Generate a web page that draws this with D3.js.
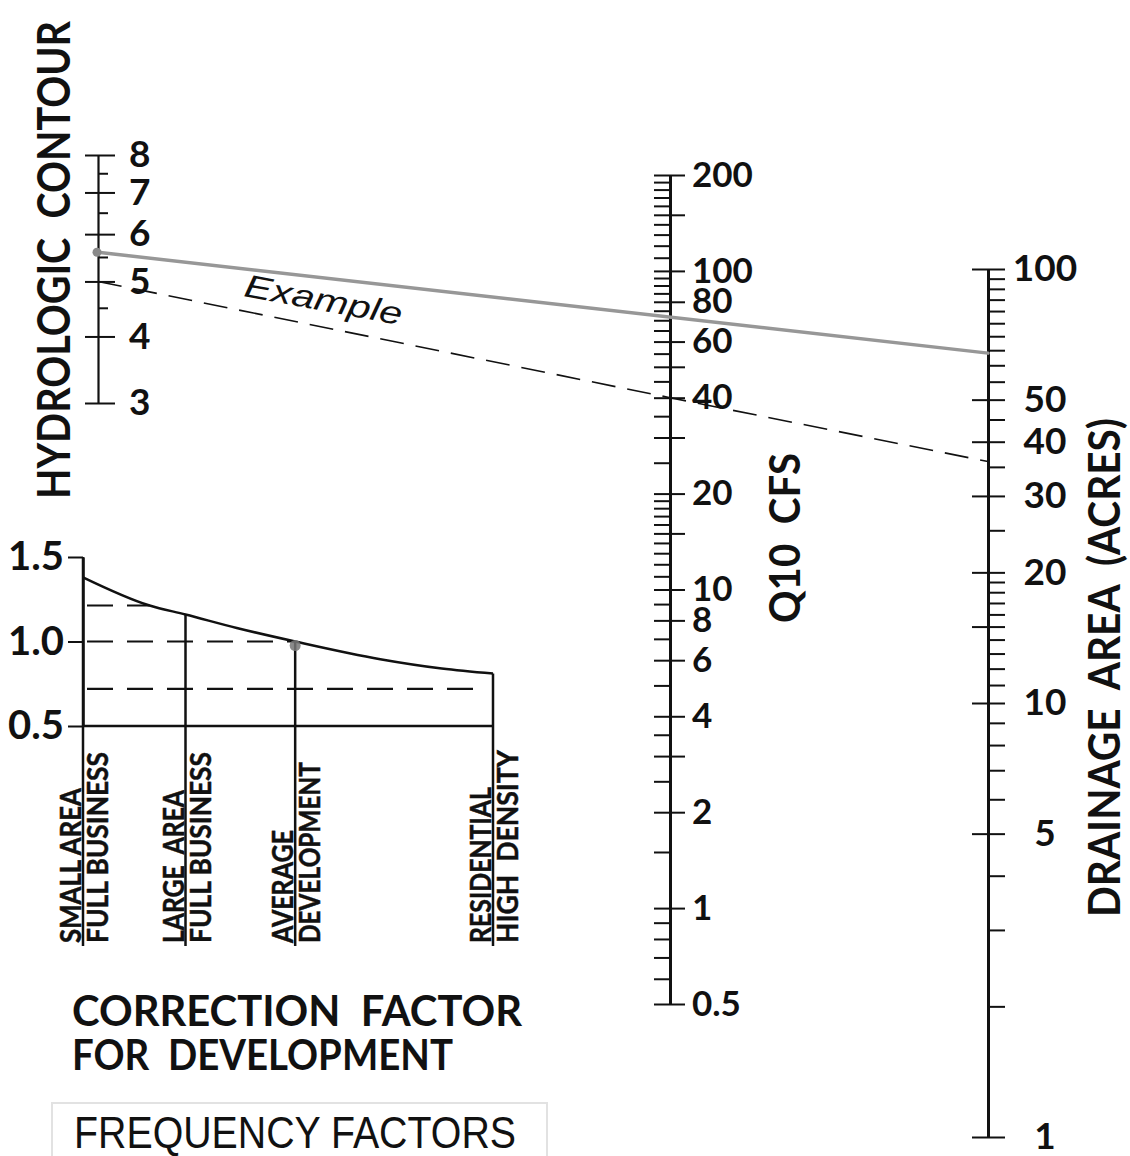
<!DOCTYPE html>
<html>
<head>
<meta charset="utf-8">
<script src="https://cdn.jsdelivr.net/npm/d3@7"></script>
<style>
  body { margin: 0; background: #fff; }
  svg { display: block; }
  text { fill: #111; white-space: pre; }
</style>
</head>
<body>
<script>
// ---- Hydrologic contour scale ----
const contourMajor = [3, 4, 5, 6, 7, 8];
const contourMinor = [4.5, 5.5, 6.5, 7.5];

// ---- Q10 flow scale (cfs) ----
const flowMajor = [0.5, 1, 2, 3, 4, 6, 8, 10, 15, 20, 30, 40, 50, 60, 80, 100, 150, 200];
const flowMinor = [0.6, 0.7, 0.8, 0.9, 1.5, 2.5, 3.5, 5, 7, 9,
                   11, 12, 13, 14, 16, 17, 18, 19, 25, 35, 45, 55, 65, 70, 75,
                   85, 90, 95, 110, 120, 130, 140, 160, 170, 180, 190];
const flowLabels = [0.5, 1, 2, 4, 6, 8, 10, 20, 40, 60, 80, 100, 200];

// ---- Drainage area scale (acres) ----
const areaMajor = [1, 5, 10, 15, 20, 30, 40, 50, 100];
const areaMinor = [2, 3, 4, 6, 7, 8, 9, 11, 12, 13, 14, 16, 17, 18, 19, 25, 35, 45,
                   55, 60, 65, 70, 75, 80, 85, 90, 95];
const areaLabels = [1, 5, 10, 20, 30, 40, 50, 100];

// ---- Worked example ----
const exampleSolid = { contour: 5.6, area: 64 };
const exampleDashed = { contour: 5, flow: 40, area: 36 };

// ---- Correction factor for development ----
const factorTicks = [0.5, 1.0, 1.5];
const categoryNames = [["SMALL AREA", "FULL BUSINESS"], ["LARGE  AREA", "FULL BUSINESS"],
                       ["AVERAGE", "DEVELOPMENT"], ["RESIDENTIAL", "HIGH  DENSITY"]];
const categoryPos = [0, 1, 2.07, 4];
const curvePos = [0, 0.65, 1, 1.5, 2.07, 2.9, 3.5, 4];
const curveFactor = [1.38, 1.213, 1.16, 1.08, 1.0, 0.895, 0.84, 0.81];
const guideFactor = [1.213, 1.0, 0.72];
const guideEnd = [0.65, 2.07, 4];
const examplePos = 2.07;

// ---------------------------------------------------------------
const W = 1130, H = 1156;
const FONT = "Lato, 'Open Sans', 'DejaVu Sans', sans-serif";
const INK = "#111";

const svg = d3.select("body").append("svg")
  .attr("width", W).attr("height", H)
  .attr("viewBox", `0 0 ${W} ${H}`);

const xContour = 98, xFlow = 670, xArea = 988;

const contourY = d3.scalePow().exponent(0.25).domain([3, 8]).range([403, 155]);
const flowY = d3.scaleLog().domain([0.5, 200]).range([1004, 175]);
const areaY = d3.scaleLog().domain([1, 100]).range([1137, 269]);

const fmt = d => (d < 1 ? d3.format(".1f")(d) : d3.format("d")(d));

function styleAxis(g, opts) {
  g.attr("font-family", null).attr("font-size", null);
  g.selectAll(".tick line").attr("stroke", INK).attr("stroke-width", opts.tickWidth || 2);
  g.selectAll(".domain").attr("stroke", INK).attr("stroke-width", opts.domainWidth || 2.5);
  g.selectAll(".tick text")
    .attr("fill", INK)
    .style("font-family", FONT)
    .style("font-weight", 700)
    .style("font-size", opts.fontSize + "px");
}

// ---- Hydrologic contour axis ----
{
  const g = svg.append("g").attr("transform", `translate(${xContour},0)`);
  const left = g.append("g").call(d3.axisLeft(contourY).tickValues(contourMajor)
    .tickSize(13).tickSizeOuter(0).tickFormat(""));
  styleAxis(left, { domainWidth: 2.2 });
  const minor = g.append("g").call(d3.axisRight(contourY).tickValues(contourMinor)
    .tickSize(10).tickSizeOuter(0).tickFormat(""));
  minor.select(".domain").remove();
  styleAxis(minor, {});
  const right = g.append("g").call(d3.axisRight(contourY).tickValues(contourMajor)
    .tickSize(17).tickSizeOuter(0).tickPadding(14).tickFormat(d3.format("d")));
  right.select(".domain").remove();
  styleAxis(right, { fontSize: 37 });
}

svg.append("text")
  .attr("transform", `translate(70,499) rotate(-90)`)
  .attr("textLength", 478).attr("lengthAdjust", "spacingAndGlyphs")
  .style("font-family", FONT).style("font-weight", 700).style("font-size", "45px")
  .text("HYDROLOGIC  CONTOUR");

// ---- Q10 axis ----
{
  const g = svg.append("g").attr("transform", `translate(${xFlow},0)`);
  const left = g.append("g").call(d3.axisLeft(flowY).tickValues(flowMajor.concat(flowMinor))
    .tickSize(16).tickSizeOuter(0).tickFormat(""));
  styleAxis(left, { domainWidth: 3 });
  const right = g.append("g").call(d3.axisRight(flowY).tickValues(flowMajor)
    .tickSize(15).tickSizeOuter(0).tickPadding(7)
    .tickFormat(d => flowLabels.includes(d) ? fmt(d) : ""));
  right.select(".domain").remove();
  styleAxis(right, { fontSize: 35 });
}

svg.append("text")
  .attr("transform", `translate(800,623) rotate(-90)`)
  .attr("textLength", 170).attr("lengthAdjust", "spacingAndGlyphs")
  .style("font-family", FONT).style("font-weight", 700).style("font-size", "42px")
  .text("Q10  CFS");

// ---- Drainage area axis ----
{
  const g = svg.append("g").attr("transform", `translate(${xArea},0)`);
  const right = g.append("g").call(d3.axisRight(areaY).tickValues(areaMajor.concat(areaMinor))
    .tickSize(17).tickSizeOuter(0).tickFormat(""));
  styleAxis(right, { domainWidth: 3 });
  const left = g.append("g").call(d3.axisLeft(areaY).tickValues(areaMajor)
    .tickSize(16).tickSizeOuter(0).tickFormat(""));
  left.select(".domain").remove();
  styleAxis(left, {});
  const lab = g.append("g").call(d3.axisRight(areaY).tickValues(areaLabels)
    .tickSize(0).tickSizeOuter(0).tickPadding(57).tickFormat(fmt));
  lab.select(".domain").remove();
  lab.selectAll(".tick line").remove();
  styleAxis(lab, { fontSize: 37 });
  lab.selectAll(".tick text").attr("text-anchor", "middle");
}

svg.append("text")
  .attr("transform", `translate(1120,917) rotate(-90)`)
  .attr("textLength", 499).attr("lengthAdjust", "spacingAndGlyphs")
  .style("font-family", FONT).style("font-weight", 700).style("font-size", "44px")
  .text("DRAINAGE  AREA  (ACRES)");

// ---- Example lines ----
svg.append("line")
  .attr("x1", xContour).attr("y1", contourY(exampleSolid.contour))
  .attr("x2", xArea).attr("y2", areaY(exampleSolid.area))
  .attr("stroke", "#979797").attr("stroke-width", 3.5).attr("stroke-linecap", "round");
svg.append("circle")
  .attr("cx", xContour - 1).attr("cy", contourY(exampleSolid.contour))
  .attr("r", 4.5).attr("fill", "#8a8a8a");

svg.append("path")
  .attr("d", d3.line()([
    [xContour, contourY(exampleDashed.contour)],
    [xFlow, flowY(exampleDashed.flow)],
    [xArea, areaY(exampleDashed.area)]
  ]))
  .attr("fill", "none").attr("stroke", INK).attr("stroke-width", 1.6)
  .attr("stroke-dasharray", "24,12");

svg.append("text")
  .attr("transform", `translate(243,296) rotate(10.5)`)
  .attr("textLength", 160).attr("lengthAdjust", "spacingAndGlyphs")
  .style("font-family", "'Liberation Sans', Arial, sans-serif")
  .style("font-style", "italic").style("font-size", "32px")
  .text("Example");

// ---- Correction factor chart ----
const devX = d3.scaleLinear().domain([0, 4]).range([83, 493]);
const factorY = d3.scaleLinear().domain([0.5, 1.5]).range([726, 557]);
const labelBase = 943, barBottom = 946;

{
  const ax = svg.append("g").attr("transform", `translate(${devX(0)},0)`)
    .call(d3.axisLeft(factorY).tickValues(factorTicks).tickSize(15).tickSizeOuter(0)
      .tickPadding(4).tickFormat(d3.format(".1f")));
  styleAxis(ax, { fontSize: 40, domainWidth: 2.5 });
}

// factor = 0.5 baseline
svg.append("line")
  .attr("x1", devX(0)).attr("x2", devX(4))
  .attr("y1", factorY(0.5)).attr("y2", factorY(0.5))
  .attr("stroke", INK).attr("stroke-width", 2.5);

// guide lines
svg.append("g").selectAll("line").data(guideFactor).join("line")
  .attr("x1", devX(0) + 4).attr("x2", (d, i) => devX(guideEnd[i]) - (i === 2 ? 6 : 0))
  .attr("y1", d => factorY(d)).attr("y2", d => factorY(d))
  .attr("stroke", INK).attr("stroke-width", 2.2).attr("stroke-dasharray", "26,14");

// development curve
const curvePts = curvePos.map((p, i) => [devX(p), factorY(curveFactor[i])]);
svg.append("path")
  .attr("d", d3.line().curve(d3.curveMonotoneX)(curvePts))
  .attr("fill", "none").attr("stroke", INK).attr("stroke-width", 2.5);

// category bars with their two-line labels
const interp = x => {
  for (let i = 1; i < curvePos.length; i++) {
    if (x <= curvePos[i]) {
      const t = (x - curvePos[i - 1]) / (curvePos[i] - curvePos[i - 1]);
      return curveFactor[i - 1] + t * (curveFactor[i] - curveFactor[i - 1]);
    }
  }
  return curveFactor[curveFactor.length - 1];
};

const labelLen = [[155, 191], [153, 191], [113, 181], [156, 193]];
const cat = svg.append("g").selectAll("g").data(categoryNames).join("g");
cat.append("line")
  .attr("x1", (d, i) => devX(categoryPos[i])).attr("x2", (d, i) => devX(categoryPos[i]))
  .attr("y1", (d, i) => i === 0 ? factorY(1.5) : factorY(interp(categoryPos[i])))
  .attr("y2", barBottom)
  .attr("stroke", INK).attr("stroke-width", 2.5);
cat.append("text")
  .attr("transform", (d, i) => `translate(${devX(categoryPos[i]) - 2},${labelBase}) rotate(-90)`)
  .attr("textLength", (d, i) => labelLen[i][0]).attr("lengthAdjust", "spacingAndGlyphs")
  .style("font-family", FONT).style("font-weight", 700).style("font-size", "29px")
  .attr("stroke", INK).attr("stroke-width", 0.5)
  .text(d => d[0]);
cat.append("text")
  .attr("transform", (d, i) => `translate(${devX(categoryPos[i]) + 25},${labelBase}) rotate(-90)`)
  .attr("textLength", (d, i) => labelLen[i][1]).attr("lengthAdjust", "spacingAndGlyphs")
  .style("font-family", FONT).style("font-weight", 700).style("font-size", "29px")
  .attr("stroke", INK).attr("stroke-width", 0.5)
  .text(d => d[1]);

// example point on the curve
svg.append("circle")
  .attr("cx", devX(examplePos)).attr("cy", factorY(interp(examplePos)) + 4)
  .attr("r", 5.5).attr("fill", "#777").attr("opacity", 0.85);

// titles
svg.append("text")
  .attr("x", 72).attr("y", 1026)
  .attr("textLength", 450).attr("lengthAdjust", "spacingAndGlyphs")
  .style("font-family", FONT).style("font-weight", 700).style("font-size", "42px")
  .text("CORRECTION  FACTOR");
svg.append("text")
  .attr("x", 72).attr("y", 1070)
  .attr("textLength", 381).attr("lengthAdjust", "spacingAndGlyphs")
  .style("font-family", FONT).style("font-weight", 700).style("font-size", "42px")
  .text("FOR  DEVELOPMENT");

svg.append("rect")
  .attr("x", 52).attr("y", 1103).attr("width", 495).attr("height", 56)
  .attr("fill", "none").attr("stroke", "#e2e2e2").attr("stroke-width", 2);
svg.append("text")
  .attr("x", 74).attr("y", 1148)
  .attr("textLength", 442).attr("lengthAdjust", "spacingAndGlyphs")
  .style("font-family", "'Liberation Sans', Arial, sans-serif").style("font-size", "44px")
  .text("FREQUENCY FACTORS");
</script>
</body>
</html>
